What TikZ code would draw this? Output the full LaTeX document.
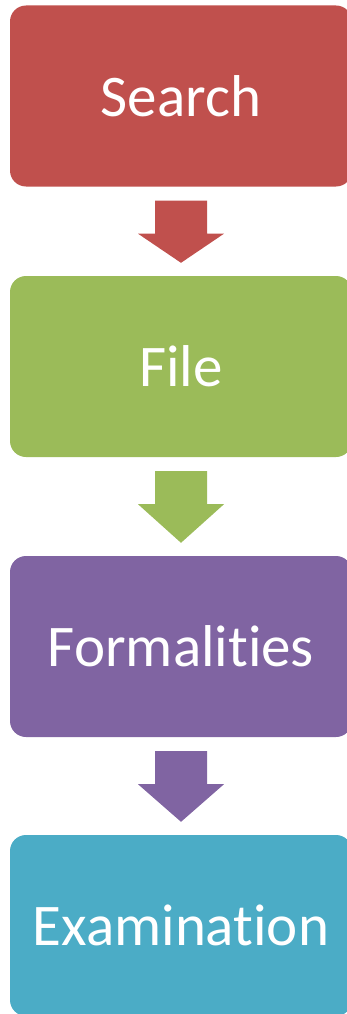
\documentclass[tikz,border=0pt]{standalone}
\usepackage{fontspec}
\setmainfont{Carlito}[Ligatures=NoCommon]
\usepackage{xcolor}
\usepackage{tikz}
\usetikzlibrary{calc}

\definecolor{searchred}{HTML}{C0504D}
\definecolor{filegreen}{HTML}{9BBB59}
\definecolor{formpurple}{HTML}{8064A2}
\definecolor{examteal}{HTML}{4BACC6}

% block arrow from one box down to the next
\newcommand{\stagearrow}[3]{%
	\fill[#3] ($(#1.south)+(-26,14)$) -- ($(#1.south)+(26,14)$)
		-- ($(#1.south)+(26,47)$) -- ($(#1.south)+(43,47)$)
		-- ($(#2.north)+(0,-13)$)
		-- ($(#1.south)+(-43,47)$) -- ($(#1.south)+(-26,47)$) -- cycle;}

\begin{document}
\begin{tikzpicture}[x=1pt, y=-1pt, every node/.style={rectangle, rounded corners=16pt, minimum width=342pt, minimum height=181pt, inner sep=0pt, text=white, font=\fontsize{59}{62}\selectfont}]
		\useasboundingbox (0,0) rectangle (347,1014);
		\clip (0,0) rectangle (347,1014);
		\node[fill=searchred] (search) at (181,96){Search};
		\node[fill=filegreen] (file) at (181,366.5){File};
		\node[fill=formpurple] (formal) at (181,646.5){Formalities};
		\node[fill=examteal] (exam) at (181,925.5){Examination};
		\stagearrow{search}{file}{searchred}
		\stagearrow{file}{formal}{filegreen}
		\stagearrow{formal}{exam}{formpurple}
	\end{tikzpicture}
\end{document}
